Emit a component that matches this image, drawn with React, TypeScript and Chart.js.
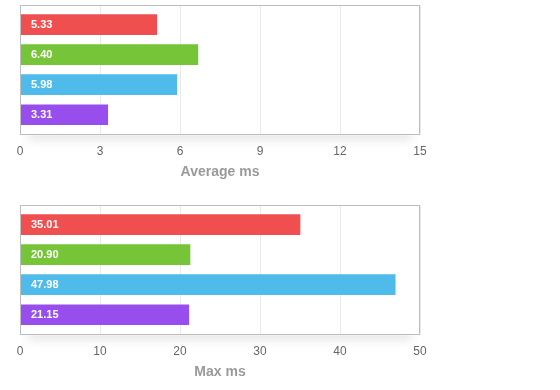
import React, { useEffect, useRef } from "react";
import { Chart, registerables } from "chart.js";

Chart.register(...registerables);

// ---- data ----
const categories = ["Run A", "Run B", "Run C", "Run D"];
const barColors = ["#ef4f4f", "#76c539", "#4ebbea", "#984ded"];

const averageBarValues = [5.13, 6.67, 5.88, 3.29];
const averageLabels = ["5.33", "6.40", "5.98", "3.31"];
const averageAxisMax = 15;
const averageAxisStep = 3;
const averageTitle = "Average ms";

const maxBarValues = [35.0, 21.25, 46.9, 21.1];
const maxLabels = ["35.01", "20.90", "47.98", "21.15"];
const maxAxisMax = 50;
const maxAxisStep = 10;
const maxTitle = "Max ms";

const FONT = '"Liberation Sans", Arial, Helvetica, sans-serif';

const framePlugin = {
  id: "frame",
  beforeDraw(chart: any) {
    const { ctx, chartArea, width, height } = chart;
    const { left, top, right, bottom } = chartArea;
    ctx.save();
    ctx.beginPath();
    ctx.rect(0, bottom + 1, width, height - bottom - 1);
    ctx.clip();
    ctx.shadowColor = "rgba(0,0,0,0.10)";
    ctx.shadowBlur = 10;
    ctx.shadowOffsetY = 6;
    ctx.fillStyle = "#ffffff";
    ctx.fillRect(left + 8, top, right - left - 16, bottom - top);
    ctx.restore();
  },
  afterDatasetsDraw(chart: any) {
    const { ctx, chartArea } = chart;
    const { left, top, right, bottom } = chartArea;
    ctx.save();
    ctx.strokeStyle = "#bdbdbd";
    ctx.lineWidth = 1;
    const l = Math.round(left) + 0.5;
    const t = Math.round(top) + 0.5;
    const r = Math.round(right) - 0.5;
    const b = Math.round(bottom) + 0.5;
    ctx.strokeRect(l, t, r - l, b - t);

    const labels: string[] = chart.options.plugins.frame.labels;
    const meta = chart.getDatasetMeta(0);
    ctx.fillStyle = "#ffffff";
    ctx.font = `bold 11px ${FONT}`;
    ctx.textAlign = "left";
    ctx.textBaseline = "middle";
    meta.data.forEach((bar: any, i: number) => {
      ctx.fillText(labels[i], left + 11, bar.y + 0.5);
    });
    ctx.restore();
  },
};

function BarPanel(props: {
  values: number[];
  labels: string[];
  axisMax: number;
  axisStep: number;
  title: string;
}) {
  const ref = useRef<HTMLCanvasElement>(null);
  useEffect(() => {
    if (!ref.current) return;
    const chart = new Chart(ref.current, {
      type: "bar",
      data: {
        labels: categories,
        datasets: [
          {
            data: categories.map((_, i) => ({ x: props.values[i], y: i })) as any,
            backgroundColor: barColors,
            borderWidth: 0,
            barThickness: 20,
          },
        ],
      },
      options: {
        indexAxis: "y",
        animation: false,
        responsive: false,
        layout: { padding: { left: 20, right: 140, top: 5, bottom: 19 } },
        plugins: {
          legend: { display: false },
          tooltip: { enabled: false },
          frame: { labels: props.labels },
        } as any,
        scales: {
          x: {
            type: "linear",
            min: 0,
            max: props.axisMax,
            afterFit: (scale: any) => {
              scale.height = 46.7;
            },
            ticks: {
              stepSize: props.axisStep,
              color: "#666666",
              font: { family: FONT, size: 12 },
              padding: 10,
            },
            grid: { color: "#e9e9e9", drawTicks: false },
            border: { display: false },
            title: {
              display: true,
              text: props.title,
              color: "#9a9a9a",
              font: { family: FONT, size: 14, weight: "bold" },
              padding: { top: 0, bottom: 0 },
            },
          },
          y: {
            type: "linear",
            reverse: true,
            offset: false,
            min: -0.65,
            max: 3.65,
            display: false,
          },
        },
      },
      plugins: [framePlugin],
    });
    return () => chart.destroy();
  }, []);
  return (
    <canvas
      ref={ref}
      width={560}
      height={200}
      style={{ display: "block", width: 560, height: 200 }}
    />
  );
}

export default function App() {
  return (
    <div
      style={{
        position: "fixed",
        left: 0,
        top: 0,
        width: 560,
        height: 390,
        overflow: "hidden",
        background: "#ffffff",
      }}
    >
      <BarPanel
        values={averageBarValues}
        labels={averageLabels}
        axisMax={averageAxisMax}
        axisStep={averageAxisStep}
        title={averageTitle}
      />
      <BarPanel
        values={maxBarValues}
        labels={maxLabels}
        axisMax={maxAxisMax}
        axisStep={maxAxisStep}
        title={maxTitle}
      />
    </div>
  );
}
